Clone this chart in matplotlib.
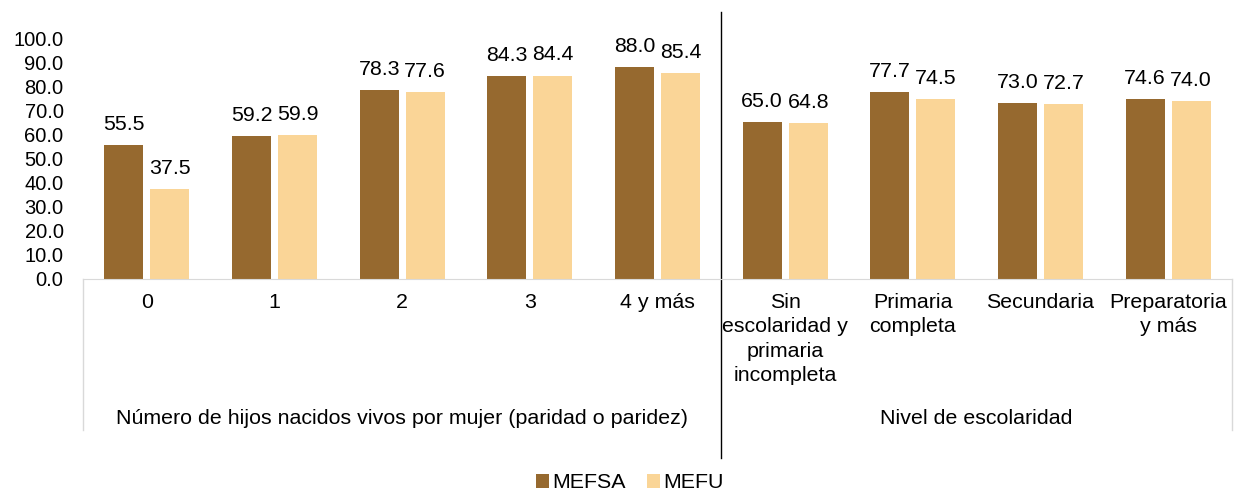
import matplotlib
matplotlib.use('Agg')
import matplotlib.pyplot as plt
import numpy as np

plt.rcParams['font.family'] = ['Liberation Sans', 'DejaVu Sans']

categorias = ['0', '1', '2', '3', '4 y más',
              'Sin\nescolaridad y\nprimaria\nincompleta',
              'Primaria\ncompleta', 'Secundaria', 'Preparatoria\ny más']
grupos = ['Número de hijos nacidos vivos por mujer (paridad o paridez)',
          'Nivel de escolaridad']
mefsa = [55.5, 59.2, 78.3, 84.3, 88.0, 65.0, 77.7, 73.0, 74.6]
mefu = [37.5, 59.9, 77.6, 84.4, 85.4, 64.8, 74.5, 72.7, 74.0]

c_mefsa = '#96692F'
c_mefu = '#FAD597'
fs = 15.4
fs_y = 14.5

fig = plt.figure(figsize=(12.35, 4.91), dpi=100)
ax = fig.add_axes([0.0672, 0.4318, 0.9304, 0.4908])

x = np.arange(len(categorias))
w = 0.305
b1 = ax.bar(x - 0.18, mefsa, w, color=c_mefsa, label='MEFSA')
b2 = ax.bar(x + 0.18, mefu, w, color=c_mefu, label='MEFU')
for bars, vals in ((b1, mefsa), (b2, mefu)):
    for r, v in zip(bars, vals):
        ax.annotate('%.1f' % v, (r.get_x() + r.get_width() / 2, v),
                    xytext=(0, 8), textcoords='offset points',
                    ha='center', va='bottom', fontsize=fs)

ax.set_xlim(-0.5, 8.5)
ax.set_ylim(0, 100)
ax.set_yticks(np.arange(0, 101, 10))
ax.set_yticklabels(['%.1f' % t for t in np.arange(0, 101, 10)], fontsize=fs_y)
ax.set_xticks(x)
ax.set_xticklabels(categorias, fontsize=fs, linespacing=1.36, va='top')
ax.tick_params(axis='y', length=0, pad=14)
ax.tick_params(axis='x', length=0, pad=10)
for s in ['top', 'right', 'left']:
    ax.spines[s].set_visible(False)
ax.spines['bottom'].set_color('#D9D9D9')

# lineas del eje de categorias
gris = '#D9D9D9'
ax.plot([-0.5, -0.5], [0, -62.7], color=gris, lw=1, clip_on=False)
ax.plot([8.5, 8.5], [0, -62.7], color=gris, lw=1, clip_on=False)
ax.plot([4.5, 4.5], [110.8, -74.3], color='black', lw=1, clip_on=False)

ax.text(2, -58, grupos[0], ha='center', va='center', fontsize=fs)
ax.text(6.5, -58, grupos[1], ha='center', va='center', fontsize=fs)

fig.legend(handles=[b1, b2], loc='center', bbox_to_anchor=(630 / 1235, 1 - 483 / 491),
           ncol=2, frameon=False, fontsize=fs, handlelength=0.6, handleheight=0.6,
           handletextpad=0.15, columnspacing=1.0)

fig.savefig('out.png', dpi=100)
